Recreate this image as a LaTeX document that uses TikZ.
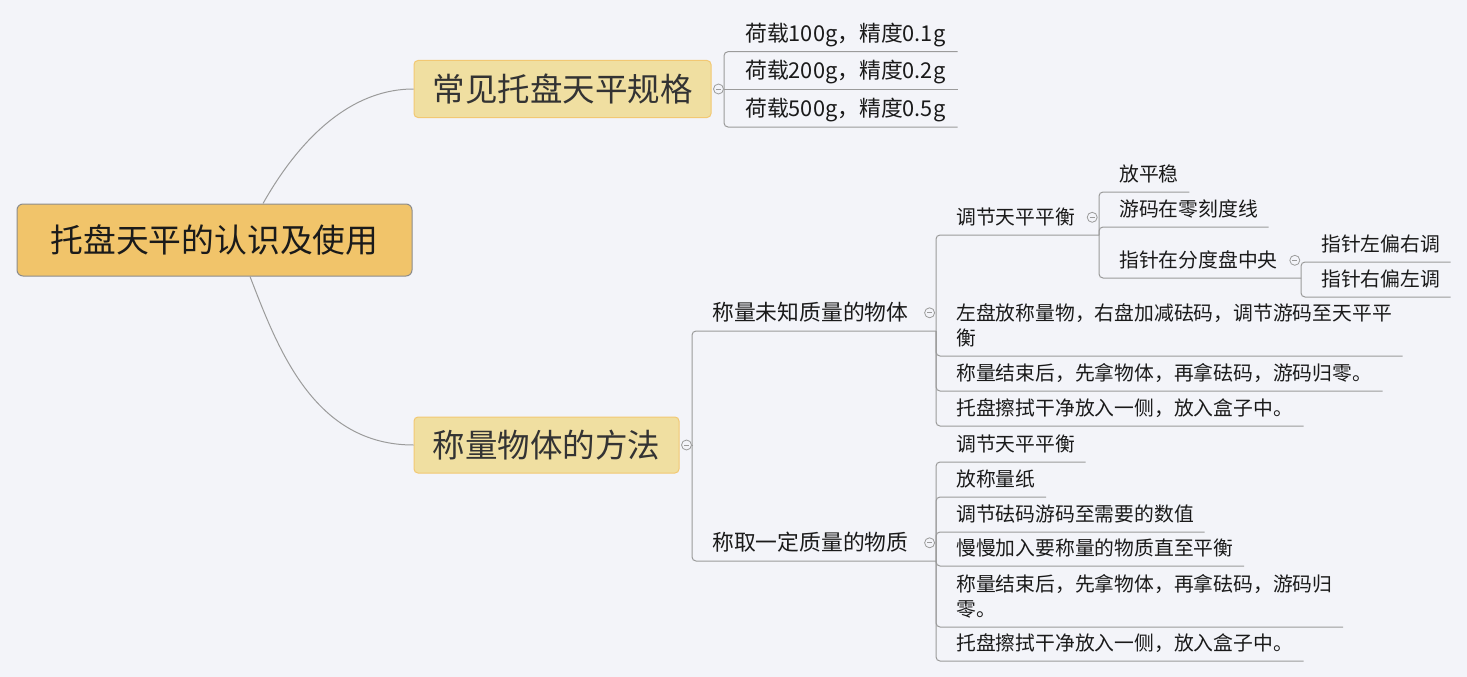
\documentclass[tikz,border=0pt]{standalone}
\usepackage{fontspec}
\setmainfont{Noto Sans CJK SC}
\usepackage{tikz}

\definecolor{bg}{HTML}{F3F4F9}
\definecolor{rootfill}{HTML}{F1C46A}
\definecolor{rootline}{HTML}{8C8C8C}
\definecolor{topicfill}{HTML}{F0DFA1}
\definecolor{topicline}{HTML}{F2C873}
\definecolor{linegray}{HTML}{9B9B9B}
\definecolor{txt}{HTML}{1A1A1A}
\definecolor{topictxt}{HTML}{333333}

\newcommand\twolines[2]{\begin{tabular}[b]{@{}l@{}}#1\\#2\end{tabular}}

\begin{document}
\begin{tikzpicture}[x=1pt,y=-1pt,
  branch/.style={draw=linegray, line width=1pt},
  conn/.style={draw=linegray, line width=1pt, rounded corners=4pt},
  rootbox/.style={draw=rootline, fill=rootfill, rounded corners=6pt, line width=1pt, text=txt,
    font=\fontsize{32.8}{38}\selectfont, minimum width=395pt, minimum height=72pt, inner sep=0pt},
  topic/.style={draw=topicline, fill=topicfill, rounded corners=4pt, line width=1pt, text=topictxt,
    font=\fontsize{32.5}{38}\selectfont, inner sep=0pt},
  lvthree/.style={anchor=south west, inner xsep=0pt, inner ysep=10pt, text depth=0pt, text=txt,
    font=\fontsize{21.8}{26}\selectfont},
  lvfour/.style={lvthree, font=\fontsize{19.8}{25}\selectfont},
  fold/.style={circle, draw=linegray, fill=bg, line width=0.8pt, inner sep=0pt, minimum size=10pt,
    path picture={\draw[linegray, line width=0.8pt] ([xshift=-2.5pt]path picture bounding box.center)
      -- ([xshift=2.5pt]path picture bounding box.center);}}
]

% Background
\fill[bg] (0,0) rectangle (1467,677);
\useasboundingbox (0,0) rectangle (1467,677);

% Central topic and the two main branches
\node[rootbox] (root) at (214.5,240) {托盘天平的认识及使用};
\node[topic, minimum width=297pt, minimum height=57pt] (spec) at (562.5,89) {常见托盘天平规格};
\node[topic, minimum width=265pt, minimum height=56pt] (method) at (546.5,445) {称量物体的方法};

\draw[branch] ([xshift=48.5pt]root.north) .. controls (282,170) and (333,89) .. (spec.west);
\draw[branch] ([xshift=35.5pt]root.south) .. controls (278,349) and (314,445) .. (method.west);

% Common specifications
\coordinate (j-spec) at (724,89);
\node[lvthree] (s100) at (745,51.7) {荷载100g，精度0.1g};
\node[lvthree] (s200) at (745,89) {荷载200g，精度0.2g};
\node[lvthree] (s500) at (745,127) {荷载500g，精度0.5g};
\draw[conn] (j-spec) |- ([xshift=12pt]s100.south east);
\draw[conn] (j-spec) -- ([xshift=12pt]s200.south east);
\draw[conn] (j-spec) |- ([xshift=12pt]s500.south east);
\node[fold] (f-spec) at ([xshift=7pt]spec.east) {};
\draw[conn] (f-spec) -- (j-spec);

% Weighing methods
\coordinate (j-method) at (692,445);
\coordinate (j-unknown) at (936,331);
\coordinate (j-fixed) at (936,561);
\node[lvthree] (unknown) at (712,331) {称量未知质量的物体};
\node[lvthree] (fixed) at (712,561) {称取一定质量的物质};
\draw[conn] (j-method) |- (j-unknown);
\draw[conn] (j-method) |- (j-fixed);
\node[fold] (f-method) at ([xshift=7pt]method.east) {};
\draw[conn] (f-method) -- (j-method);
\node[fold] (f-unknown) at ([xshift=21pt,yshift=8pt]unknown.base east) {};
\node[fold] (f-fixed) at ([xshift=21pt,yshift=8pt]fixed.base east) {};

% Weighing an unknown mass
\coordinate (j-balance) at (1099,235);
\node[lvfour] (balance) at (956,235) {调节天平平衡};
\node[lvfour] (place) at (956,356) {\twolines{左盘放称量物，右盘加减砝码，调节游码至天平平}{衡}};
\node[lvfour] (finish) at (956,391) {称量结束后，先拿物体，再拿砝码，游码归零。};
\node[lvfour] (clean) at (956,426) {托盘擦拭干净放入一侧，放入盒子中。};
\draw[conn] (j-unknown) |- (j-balance);
\draw[conn] (j-unknown) |- ([xshift=10.5pt]place.south east);
\draw[conn] (j-unknown) |- ([xshift=10.5pt]finish.south east);
\draw[conn] (j-unknown) |- ([xshift=10.5pt]clean.south east);
\node[fold] (f-balance) at ([xshift=17pt,yshift=7.5pt]balance.base east) {};

% Balancing steps
\coordinate (j-pointer) at (1301,278);
\node[lvfour] (steady) at (1119,192) {放平稳};
\node[lvfour] (zero) at (1119,227) {游码在零刻度线};
\node[lvfour] (pointer) at (1119,278) {指针在分度盘中央};
\draw[conn] (j-balance) |- ([xshift=10.5pt]steady.south east);
\draw[conn] (j-balance) |- ([xshift=10.5pt]zero.south east);
\draw[conn] (j-balance) |- (j-pointer);
\node[fold] (f-pointer) at ([xshift=17pt,yshift=7.5pt]pointer.base east) {};

\node[lvfour] (toleft) at (1321,262) {指针左偏右调};
\node[lvfour] (toright) at (1321,297) {指针右偏左调};
\draw[conn] (j-pointer) |- ([xshift=10.5pt]toleft.south east);
\draw[conn] (j-pointer) |- ([xshift=10.5pt]toright.south east);

% Weighing out a fixed mass
\node[lvfour] (q-balance) at (956,462) {调节天平平衡};
\node[lvfour] (q-paper) at (956,497) {放称量纸};
\node[lvfour] (q-set) at (956,532) {调节砝码游码至需要的数值};
\node[lvfour] (q-add) at (956,566) {慢慢加入要称量的物质直至平衡};
\node[lvfour] (q-finish) at (956,627) {\twolines{称量结束后，先拿物体，再拿砝码，游码归}{零。}};
\node[lvfour] (q-clean) at (956,661) {托盘擦拭干净放入一侧，放入盒子中。};
\draw[conn] (j-fixed) |- ([xshift=10.5pt]q-balance.south east);
\draw[conn] (j-fixed) |- ([xshift=10.5pt]q-paper.south east);
\draw[conn] (j-fixed) |- ([xshift=10.5pt]q-set.south east);
\draw[conn] (j-fixed) |- ([xshift=10.5pt]q-add.south east);
\draw[conn] (j-fixed) |- ([xshift=10.5pt]q-finish.south east);
\draw[conn] (j-fixed) |- ([xshift=10.5pt]q-clean.south east);

\end{tikzpicture}
\end{document}
